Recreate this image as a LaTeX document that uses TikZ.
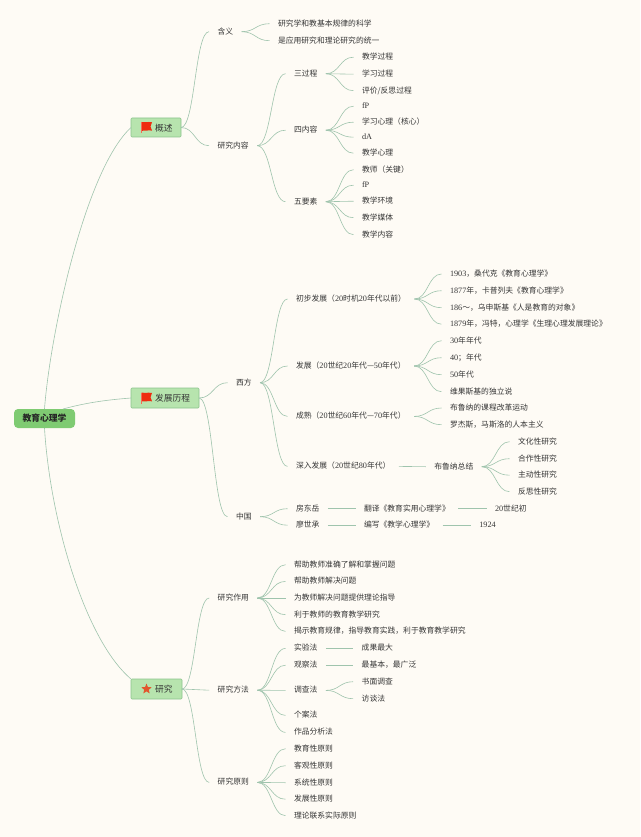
\documentclass[tikz,border=0pt]{standalone}
\usepackage{fontspec}
\setmainfont{Noto Sans CJK SC}
\newfontfamily\latfont{Liberation Serif}
\newcommand\lt[1]{{\latfont\fontsize{8.2pt}{10pt}\selectfont #1}}
\usetikzlibrary{calc,shapes.geometric}
\definecolor{bgc}{HTML}{FEFBF5}
\definecolor{linkc}{HTML}{9FC4AD}
\definecolor{txtc}{HTML}{363636}
\definecolor{rootc}{HTML}{7FCB72}
\definecolor{mainc}{HTML}{B7E4AE}
\definecolor{mainb}{HTML}{8CC48C}
\definecolor{flagc}{HTML}{EE2C10}
\definecolor{starc}{HTML}{E2572E}
\tikzset{
 t/.style={anchor=west,inner xsep=8.5pt,inner ysep=0pt,xshift=-8.5pt,yshift=-.7pt,outer sep=0pt,text height=6.4pt,text depth=1.3pt,text=txtc,font=\fontsize{7.8pt}{9pt}\selectfont},
 main/.style={draw=mainb,fill=mainc,rounded corners=1pt,line width=.6pt,anchor=north west,inner sep=0pt,outer sep=0pt},
 rootbox/.style={fill=rootc,rounded corners=4pt,anchor=north west,inner sep=0pt,outer sep=0pt,minimum width=61pt,minimum height=19pt,font=\bfseries\fontsize{8.8pt}{10pt}\selectfont,text=black!85},
 link/.style={draw=linkc,line width=.6pt},
 mainlabel/.style={font=\fontsize{8.7pt}{10pt}\selectfont,text=black!80,inner sep=0pt,anchor=west}
}
\newcommand\conn[2]{\draw[link] (#1.east) .. controls ($(#1.east)!.5!(#1.east -| #2.west)$) and ($(#2.west)!.5!(#1.east |- #2.west)$) .. (#2.west);}
\newcommand\flagat[2]{\begin{scope}[shift={(#1,#2)}]
 \fill[flagc] (0,0) .. controls (3,.8) and (6,-.6) .. (10.5,.3) -- (9,4.5) -- (10.5,8.6) .. controls (6,7.8) and (3,9.4) .. (0,8.8) -- cycle;
 \draw[flagc!70!white,line width=.6pt] (0,0) -- (0,11.5);
\end{scope}}
\begin{document}
\begin{tikzpicture}[x=1pt,y=-1pt]
\useasboundingbox (0,0) rectangle (640,837);
\fill[bgc] (0,0) rectangle (640,837);
% main boxes
\node[rootbox] (root) at (14,409) {教育心理学};
\node[main,minimum width=50pt,minimum height=19pt] (a) at (131,118) {};
\node[main,minimum width=68pt,minimum height=20pt] (b) at (131,388) {};
\node[main,minimum width=51pt,minimum height=20pt] (c) at (131,679) {};
\node[mainlabel] (alab) at (155,128.5) {概述};
\node[mainlabel] (blab) at (155,398.5) {发展历程};
\node[mainlabel] (clab) at (155,689.5) {研究};
\flagat{141.5}{122}
\flagat{141.5}{392.7}
\node[star,star points=5,star point ratio=2.3,fill=starc,inner sep=0pt,minimum size=11pt] (cstar) at (146.5,689) {};
% root links
\draw[link] (root.north) .. controls (50,335) and (85,170) .. (a.west);
\draw[link] (root.north east) ++(-12,0) .. controls (85,403) and (105,400) .. (b.west);
\draw[link] (root.south) .. controls (50,520) and (85,640) .. (c.north west);
% A
\node[t] (a1) at (217.5,31) {含义};
\node[t] (a2) at (217.5,145) {研究内容};
\node[t] (a11) at (278,23) {研究学和教基本规律的科学};
\node[t] (a12) at (278,40) {是应用研究和理论研究的统一};
\node[t] (a21) at (294,73) {三过程};
\node[t] (a22) at (294,129.5) {四内容};
\node[t] (a23) at (294,201) {五要素};
\node[t] (a211) at (362,56.5) {教学过程};
\node[t] (a212) at (362,73.5) {学习过程};
\node[t] (a213) at (362,90) {评价/反思过程};
\node[t] (a221) at (362,105.5) {\lt{fP}};
\node[t] (a222) at (362,121.5) {学习心理（核心）};
\node[t] (a223) at (362,136.5) {\lt{dA}};
\node[t] (a224) at (362,152.5) {教学心理};
\node[t] (a231) at (362,169) {教师（关键）};
\node[t] (a232) at (362,184.5) {\lt{fP}};
\node[t] (a233) at (362,200.5) {教学环境};
\node[t] (a234) at (362,217) {教学媒体};
\node[t] (a235) at (362,234) {教学内容};
\conn{a}{a1}\conn{a}{a2}
\conn{a1}{a11}\conn{a1}{a12}
\conn{a2}{a21}\conn{a2}{a22}\conn{a2}{a23}
\conn{a21}{a211}\conn{a21}{a212}\conn{a21}{a213}
\conn{a22}{a221}\conn{a22}{a222}\conn{a22}{a223}\conn{a22}{a224}
\conn{a23}{a231}\conn{a23}{a232}\conn{a23}{a233}\conn{a23}{a234}\conn{a23}{a235}
% B
\node[t] (b1) at (236,382) {西方};
\node[t] (b2) at (236,516) {中国};
\node[t] (b11) at (296,298.3) {初步发展（\lt{20}时机\lt{20}年代以前）};
\node[t] (b12) at (296,365.3) {发展（\lt{20}世纪\lt{20}年代—\lt{50}年代）};
\node[t] (b13) at (296,415.7) {成熟（\lt{20}世纪\lt{60}年代—\lt{70}年代）};
\node[t] (b14) at (296,465.7) {深入发展（\lt{20}世纪\lt{80}年代）};
\node[t] (b111) at (450,273.3) {\lt{1903}，桑代克《教育心理学》};
\node[t] (b112) at (450,290) {\lt{1877}年，卡普列夫《教育心理学》};
\node[t] (b113) at (450,307) {\lt{186}～，乌申斯基《人是教育的对象》};
\node[t] (b114) at (450,323.5) {\lt{1879}年，冯特，心理学《生理心理发展理论》};
\node[t] (b121) at (450,340) {\lt{30}年年代};
\node[t] (b122) at (450,357) {\lt{40}；年代};
\node[t] (b123) at (450,374) {\lt{50}年代};
\node[t] (b124) at (450,391) {维果斯基的独立说};
\node[t] (b131) at (450,407.3) {布鲁纳的课程改革运动};
\node[t] (b132) at (450,424) {罗杰斯，马斯洛的人本主义};
\node[t] (b141) at (434.3,466) {布鲁纳总结};
\node[t] (b1411) at (518,441) {文化性研究};
\node[t] (b1412) at (518,458) {合作性研究};
\node[t] (b1413) at (518,474.5) {主动性研究};
\node[t] (b1414) at (518,491) {反思性研究};
\node[t] (b21) at (296,508) {房东岳};
\node[t] (b22) at (296,524.5) {廖世承};
\node[t] (b211) at (364,508) {翻译《教育实用心理学》};
\node[t] (b221) at (364,524.5) {编写《教学心理学》};
\node[t] (b212) at (495,508) {\lt{20}世纪初};
\node[t] (b222) at (479.3,524.5) {\lt{1924}};
\conn{b}{b1}\conn{b}{b2}
\conn{b1}{b11}\conn{b1}{b12}\conn{b1}{b13}\conn{b1}{b14}
\conn{b11}{b111}\conn{b11}{b112}\conn{b11}{b113}\conn{b11}{b114}
\conn{b12}{b121}\conn{b12}{b122}\conn{b12}{b123}\conn{b12}{b124}
\conn{b13}{b131}\conn{b13}{b132}
\conn{b14}{b141}
\conn{b141}{b1411}\conn{b141}{b1412}\conn{b141}{b1413}\conn{b141}{b1414}
\conn{b2}{b21}\conn{b2}{b22}
\conn{b21}{b211}\conn{b211}{b212}
\conn{b22}{b221}\conn{b221}{b222}
% C
\node[t] (c1) at (217.7,597.3) {研究作用};
\node[t] (c2) at (217.7,689.5) {研究方法};
\node[t] (c3) at (217.7,781.7) {研究原则};
\node[t] (c11) at (294,564) {帮助教师准确了解和掌握问题};
\node[t] (c12) at (294,580.7) {帮助教师解决问题};
\node[t] (c13) at (294,597.3) {为教师解决问题提供理论指导};
\node[t] (c14) at (294,614) {利于教师的教育教学研究};
\node[t] (c15) at (294,630.7) {揭示教育规律，指导教育实践，利于教育教学研究};
\node[t] (c21) at (294,647.7) {实验法};
\node[t] (c22) at (294,664.5) {观察法};
\node[t] (c23) at (294,689.7) {调查法};
\node[t] (c24) at (294,714.7) {个案法};
\node[t] (c25) at (294,731.7) {作品分析法};
\node[t] (c211) at (361.7,647.7) {成果最大};
\node[t] (c221) at (361.7,664.5) {最基本，最广泛};
\node[t] (c231) at (361.7,681) {书面调查};
\node[t] (c232) at (361.7,698) {访谈法};
\node[t] (c31) at (294,748) {教育性原则};
\node[t] (c32) at (294,765) {客观性原则};
\node[t] (c33) at (294,782) {系统性原则};
\node[t] (c34) at (294,798.5) {发展性原则};
\node[t] (c35) at (294,815) {理论联系实际原则};
\conn{c}{c1}\conn{c}{c2}\conn{c}{c3}
\conn{c1}{c11}\conn{c1}{c12}\conn{c1}{c13}\conn{c1}{c14}\conn{c1}{c15}
\conn{c2}{c21}\conn{c2}{c22}\conn{c2}{c23}\conn{c2}{c24}\conn{c2}{c25}
\conn{c21}{c211}\conn{c22}{c221}
\conn{c23}{c231}\conn{c23}{c232}
\conn{c3}{c31}\conn{c3}{c32}\conn{c3}{c33}\conn{c3}{c34}\conn{c3}{c35}
\end{tikzpicture}
\end{document}
